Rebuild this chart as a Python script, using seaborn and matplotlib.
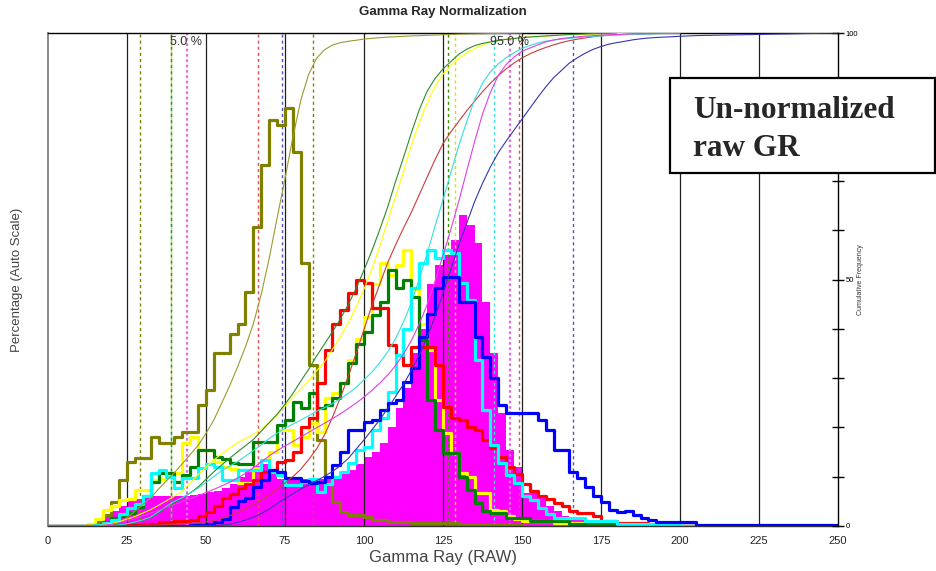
import numpy as np
import pandas as pd
import matplotlib
matplotlib.use("Agg")
import matplotlib.pyplot as plt
from matplotlib.patches import Rectangle
import seaborn as sns

# ---------------- data ----------------
bin_edges = np.arange(0, 252.5, 2.5)          # 100 bins of 2.5 GR units
x_ticks = [0, 25, 50, 75, 100, 125, 150, 175, 200, 225, 250]

olive = [0]*6 + [0.09, 0.22, 0.49, 0.93, 1.30, 1.38, 1.38, 1.80, 1.68, 1.68,
                 1.80, 1.90, 1.90, 2.45, 2.76, 3.50, 3.50, 3.90, 4.10, 4.75,
                 6.07, 7.32, 8.24, 8.13, 8.47, 7.59, 5.33, 3.27, 1.74, 0.97,
                 0.49, 0.28, 0.22, 0.22, 0.18, 0.12, 0.12] + [0.08]*3 + [0.06]*6 + [0.03]*8 + [0]*40

yellow = [0]*5 + [0.05, 0.15, 0.32, 0.40, 0.53, 0.55, 0.73, 0.73, 0.93, 0.95,
                  1.00, 1.07, 1.68, 1.81, 1.54, 1.54, 1.30, 1.20, 1.15, 0.87,
                  0.87, 1.18, 1.34, 1.50, 1.95, 1.95, 1.64, 1.80, 2.09, 1.90,
                  2.60, 2.70, 2.90, 3.37, 3.80, 4.24, 4.90, 5.33, 5.10, 5.30,
                  5.60, 4.80, 4.10, 3.57, 2.55, 1.88, 1.48, 1.07, 1.00, 0.67,
                  0.67, 0.32, 0.30, 0.20, 0.15] + [0.10]*4 + [0.06]*6 + [0.03]*6 + [0]*24

green = [0]*6 + [0.03, 0.08, 0.16, 0.20, 0.26, 0.39, 0.60, 0.90, 1.07, 1.07,
                 0.90, 1.03, 1.20, 1.54, 1.54, 1.40, 1.35, 1.28, 1.25, 1.25,
                 1.70, 1.70, 1.70, 2.05, 2.15, 2.52, 2.39, 2.70, 2.40, 2.45,
                 2.60, 2.90, 3.30, 3.70, 3.94, 4.28, 4.55, 5.20, 4.83, 5.00,
                 4.65, 3.77, 2.55, 1.95, 1.48, 1.48, 1.00, 0.73, 0.46, 0.30,
                 0.26, 0.26] + [0.16]*3 + [0.10]*5 + [0.05]*6 + [0]*28

red = [0]*8 + [0.02]*2 + [0.03]*2 + [0.05]*2 + [0.08]*2 + [
    0.10, 0.10, 0.12, 0.20, 0.28, 0.40, 0.57, 0.65, 0.77, 0.85,
    0.93, 1.10, 1.14, 1.30, 1.34, 1.50, 2.00, 2.20, 2.90, 3.57,
    4.10, 4.38, 4.72, 5.00, 4.93, 4.42, 4.42, 3.67, 3.47, 3.27,
    3.63, 3.63, 3.63, 3.27, 2.42, 2.20, 2.15, 2.00, 1.95, 1.74,
    1.58, 1.40, 1.20, 1.05, 0.85, 0.70, 0.60, 0.55, 0.46, 0.40,
    0.30] + [0.26]*2 + [0.20] + [0.10]*2 + [0.06]*4 + [0.03]*4 + [0]*20

cyan = [0]*6 + [0.03, 0.06, 0.12, 0.25, 0.36, 0.45, 0.60, 1.07, 1.14, 1.00,
                0.77, 0.97, 0.97, 1.18, 1.25, 1.20, 0.93, 0.93, 1.14, 1.14,
                1.14, 1.34, 1.10, 1.03, 0.83, 0.83, 0.90, 0.95, 0.69, 0.85,
                1.00, 1.10, 1.28, 1.54, 1.60, 1.95, 2.20, 2.72, 3.47, 4.00,
                4.83, 5.33, 5.60, 5.43, 5.60, 5.54, 4.93, 4.58, 3.37, 2.35,
                1.64, 1.28, 1.03, 0.87, 0.60, 0.53, 0.36, 0.25] + [0.16]*4 + [0.10]*4 + [0.05]*8 + [0]*20

blue = [0]*16 + [0.01]*2 + [
    0.02, 0.03, 0.05, 0.09, 0.15, 0.39, 0.50, 0.57, 0.80, 0.93,
    1.14, 1.10, 0.97, 0.97, 0.92, 0.87, 0.90, 1.00, 1.24, 1.50,
    1.95, 1.95, 2.10, 2.15, 2.35, 2.49, 2.55, 2.93, 3.20, 3.84,
    4.30, 4.83, 5.06, 5.06, 4.55, 4.55, 3.84, 3.43, 3.00, 2.45,
    2.29, 2.29, 2.29, 2.29, 2.15, 1.95, 1.54, 1.54, 1.10, 0.97,
    0.80, 0.60, 0.49, 0.32, 0.28, 0.30, 0.22, 0.16, 0.12] + [0.08]*5 + [0.03]*18

magenta = [0]*5 + [0.05, 0.10, 0.20, 0.30, 0.40, 0.50, 0.55, 0.58] + [0.60]*5 + [
    0.62, 0.65, 0.68, 0.72, 0.78, 0.85, 1.00, 1.15, 1.22, 1.25, 1.10] + [0.95]*7 + [
    1.00, 1.10, 1.14, 1.25, 1.40, 1.50, 1.68, 2.00, 2.40, 2.80,
    3.50, 4.00, 4.90, 5.30, 5.50, 5.80, 6.30, 6.10, 5.74, 4.55,
    3.50, 2.30, 1.54, 1.20, 0.67, 0.67, 0.60, 0.40, 0.30, 0.20] + [0.15]*2 + [0.10]*2 + [0.07]*4 + [0.03]*6 + [0]*20

wells = ["olive", "yellow", "green", "red", "cyan", "blue", "magenta"]
series = {"olive": olive, "yellow": yellow, "green": green, "red": red,
          "cyan": cyan, "blue": blue, "magenta": magenta}
p05 = {"olive": 29.1, "cyan": 38.8, "yellow": 38.8, "green": 38.8, "red": 66.4,
       "blue": 74.0, "magenta": 44.0}
p95 = {"olive": 83.8, "cyan": 141.2, "yellow": 128.8, "green": 126.5, "red": 149.0,
       "blue": 166.2, "magenta": 146.3}
marker_order = ["cyan", "olive", "green", "yellow", "red", "blue", "magenta"]

hist_color = {"olive": "#808000", "yellow": "#FFFF00", "green": "#008000", "red": "#FF0000",
              "cyan": "#00FFFF", "blue": "#0000FF", "magenta": "#FF00FF"}
cum_color = {"olive": "#9A9A30", "yellow": "#FFFF00", "green": "#2E8B2E", "red": "#CC3A3A",
             "cyan": "#33E0E0", "blue": "#3535B0", "magenta": "#E040E0"}
dash_color = {"olive": "#808000", "yellow": "#D8E000", "green": "#3C9000", "red": "#E05050",
              "cyan": "#40E0E0", "blue": "#5050C8", "magenta": "#E070E0"}

centers = (bin_edges[:-1] + bin_edges[1:]) / 2
rows = []
for w in wells:
    for c, v in zip(centers, series[w]):
        rows.append({"well": w, "gr": c, "pct": v})
df = pd.DataFrame(rows)

# ---------------- figure ----------------
sns.set_style("white")
plt.rcParams["font.family"] = ["Liberation Sans", "DejaVu Sans"]

W, H = 937, 571
fig = plt.figure(figsize=(W / 100, H / 100), dpi=100)
L, R, T, B = 48, 838, 33, 526
ax = fig.add_axes([L / W, 1 - B / H, (R - L) / W, (B - T) / H])

hist_kws = dict(x="gr", weights="pct", binwidth=2.5, binrange=(0, 250), element="step")

# filled magenta histogram
sns.histplot(data=df[df.well == "magenta"], fill=True, color=hist_color["magenta"], alpha=1,
             linewidth=0, ax=ax, zorder=0.8, **hist_kws)

# vertical reference lines
for v in x_ticks[1:-1]:
    ax.axvline(v, color="#202020", lw=0.9, zorder=1)

# dashed percentile markers
for w in marker_order:
    lw = 1.6 if w == "magenta" else 1.0
    if w == "magenta":
        ls = (0, (1.2, 1.2))
    elif w == "yellow":
        ls = (2.2, (2.2, 2.2))
    else:
        ls = (0, (2.2, 2.2))
    for p in (p05[w], p95[w]):
        ax.axvline(p, color=dash_color[w], lw=lw, linestyle=ls, zorder=1.2)

# outline histograms
for w in ["olive", "yellow", "green", "red", "cyan", "blue"]:
    sns.histplot(data=df[df.well == w], fill=False, color=hist_color[w], linewidth=2.3,
                 ax=ax, zorder=2, **hist_kws)

ax.set_xlim(0, 250)
ax.set_ylim(0, 10)
ax.set_xticks(x_ticks)
ax.set_xticklabels([str(t) for t in x_ticks])
ax.set_yticks([])
ax.tick_params(axis="x", length=0, pad=7, labelsize=8, labelcolor="#222222")
ax.set_xlabel("Gamma Ray (RAW)", fontsize=12, color="#444444")
ax.xaxis.set_label_coords(0.5, -0.048)
ax.set_ylabel("Percentage (Auto Scale)", fontsize=9.5, color="#444444")
ax.yaxis.set_label_coords(-0.032, 0.5)
ax.set_title("Gamma Ray Normalization", fontsize=9.5, fontweight="bold", pad=13)

ax.spines["left"].set_color("#808080"); ax.spines["left"].set_linewidth(1.3)
ax.spines["top"].set_color("black"); ax.spines["top"].set_linewidth(1.0)
ax.spines["bottom"].set_color("#333333"); ax.spines["bottom"].set_linewidth(1.0)
ax.spines["right"].set_visible(False)

# cumulative curves on the right-hand axis
ax2 = ax.twinx()
for w in ["olive", "yellow", "green", "red", "cyan", "blue", "magenta"]:
    vals = np.array(series[w], dtype=float)
    cum = np.concatenate([[0.0], np.cumsum(vals) / vals.sum() * 100])
    last = np.nonzero(vals)[0].max() + 2
    sns.lineplot(x=bin_edges[:last], y=cum[:last], color=cum_color[w], linewidth=0.8,
                 estimator=None, ax=ax2)
ax2.set_ylim(0, 100)
ax2.set_xlim(0, 250)
ax2.set_yticks(np.arange(0, 101, 10))
ax2.set_yticklabels(["0", "", "", "", "", "50", "", "", "", "", "100"])
ax2.tick_params(axis="y", right=True, direction="inout", length=9, width=1,
                labelsize=5.5, pad=1, colors="black")
for s in ["left", "top", "bottom"]:
    ax2.spines[s].set_visible(False)
ax2.spines["right"].set_color("black"); ax2.spines["right"].set_linewidth(1.0)
ax2.set_ylabel("Cumulative Frequency", fontsize=5, color="#333333")
ax2.yaxis.set_label_coords(1.024, 0.5)

ax2.text(38.6, 98.2, "5.0 %", fontsize=9, color="#333333", va="center", ha="left")
ax2.text(139.9, 98.2, "95.0 %", fontsize=9, color="#333333", va="center", ha="left")

# annotation box
fig.add_artist(Rectangle((670 / W, 1 - 173 / H), 265 / W, 95 / H, transform=fig.transFigure,
                         facecolor="white", edgecolor="black", linewidth=1.6, zorder=10))
box_font = dict(fontsize=22.5, fontweight="bold", family=["Liberation Serif", "DejaVu Serif"],
                ha="left", va="baseline", zorder=11)
fig.text(693 / W, 1 - 118 / H, "Un-normalized", **box_font)
fig.text(693 / W, 1 - 156 / H, "raw GR", **box_font)

fig.savefig("out.png", dpi=100)
